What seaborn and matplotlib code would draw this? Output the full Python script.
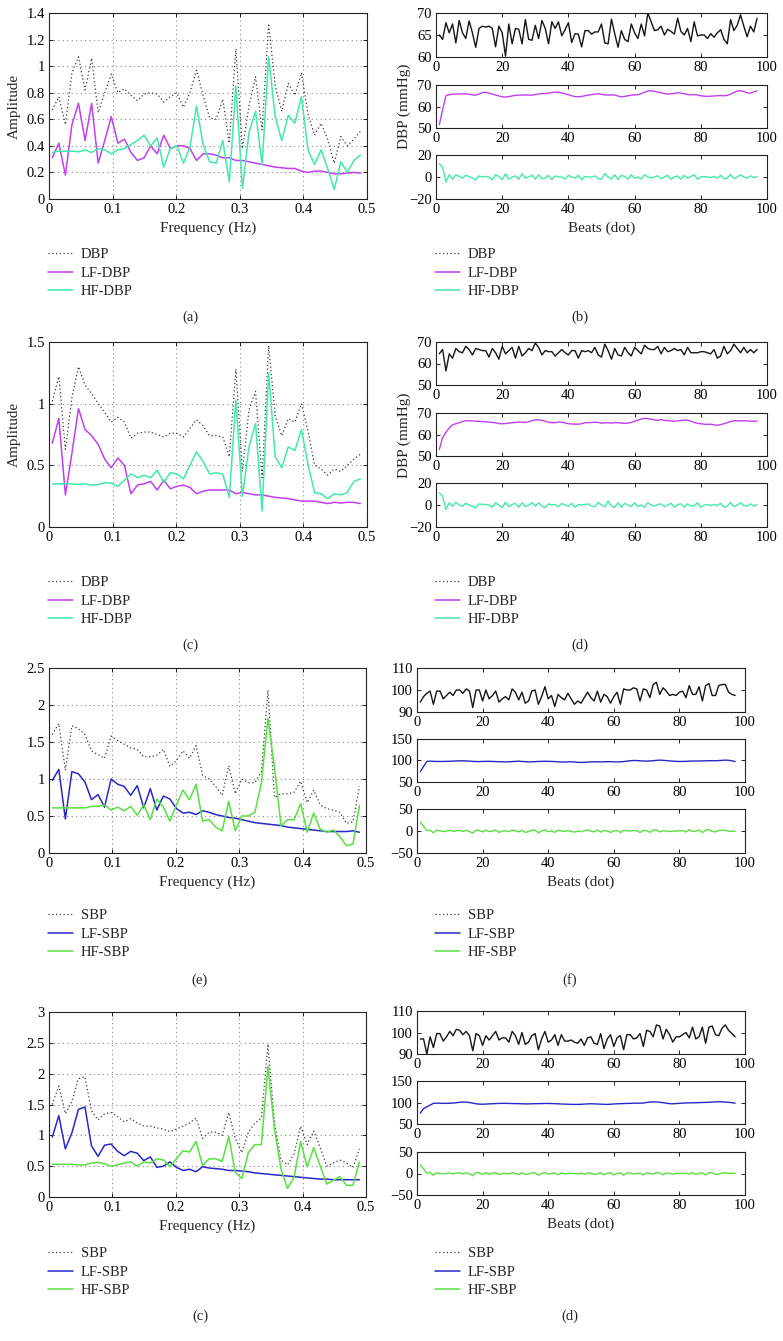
import numpy as np
import matplotlib
matplotlib.use("Agg")
import matplotlib.pyplot as plt
import seaborn as sns
from matplotlib.ticker import FuncFormatter

# ---- spectra (48 bins, 0..0.5 Hz) ----
freq = (np.arange(48) + 0.5) / 97

dbp_a = [0.67, 0.77, 0.56, 0.95, 1.07, 0.82, 1.06, 0.65, 0.80, 0.94, 0.80, 0.83, 0.78, 0.74, 0.79, 0.80,
         0.79, 0.73, 0.77, 0.80, 0.69, 0.80, 0.97, 0.78, 0.61, 0.60, 0.75, 0.42, 1.13, 0.38, 0.70, 0.92,
         0.52, 1.32, 0.85, 0.66, 0.87, 0.78, 0.95, 0.64, 0.48, 0.57, 0.45, 0.27, 0.47, 0.40, 0.45, 0.51]
lf_a = [0.31, 0.42, 0.18, 0.56, 0.72, 0.44, 0.72, 0.27, 0.44, 0.62, 0.42, 0.45, 0.35, 0.29, 0.31, 0.40,
        0.34, 0.48, 0.38, 0.40, 0.40, 0.38, 0.29, 0.34, 0.34, 0.33, 0.31, 0.31, 0.29, 0.29, 0.28, 0.27,
        0.26, 0.25, 0.24, 0.235, 0.23, 0.23, 0.21, 0.20, 0.21, 0.21, 0.20, 0.19, 0.19, 0.195, 0.20, 0.195]
hf_a = [0.35, 0.36, 0.36, 0.36, 0.355, 0.37, 0.35, 0.38, 0.37, 0.34, 0.37, 0.38, 0.41, 0.44, 0.48, 0.40,
        0.46, 0.24, 0.38, 0.40, 0.27, 0.39, 0.70, 0.41, 0.28, 0.27, 0.44, 0.13, 0.85, 0.08, 0.50, 0.66,
        0.26, 1.07, 0.62, 0.44, 0.63, 0.57, 0.77, 0.37, 0.26, 0.37, 0.23, 0.07, 0.28, 0.20, 0.29, 0.33]

dbp_c = [1.02, 1.22, 0.63, 1.05, 1.30, 1.15, 1.08, 1.00, 0.93, 0.85, 0.89, 0.85, 0.72, 0.76, 0.77, 0.77,
         0.75, 0.73, 0.76, 0.76, 0.73, 0.80, 0.87, 0.82, 0.74, 0.74, 0.73, 0.57, 1.28, 0.45, 0.95, 1.10,
         0.40, 1.47, 0.90, 0.74, 0.88, 0.85, 1.00, 0.78, 0.50, 0.47, 0.42, 0.47, 0.45, 0.50, 0.55, 0.59]
lf_c = [0.68, 0.88, 0.26, 0.60, 0.96, 0.79, 0.74, 0.67, 0.55, 0.48, 0.56, 0.50, 0.27, 0.34, 0.35, 0.37,
        0.30, 0.38, 0.31, 0.33, 0.34, 0.32, 0.27, 0.29, 0.30, 0.30, 0.30, 0.30, 0.27, 0.28, 0.27, 0.26,
        0.26, 0.25, 0.24, 0.235, 0.23, 0.22, 0.21, 0.21, 0.21, 0.20, 0.19, 0.20, 0.195, 0.20, 0.20, 0.19]
hf_c = [0.35, 0.35, 0.35, 0.35, 0.345, 0.35, 0.34, 0.345, 0.36, 0.355, 0.33, 0.38, 0.43, 0.40, 0.42, 0.40,
        0.46, 0.36, 0.44, 0.43, 0.39, 0.50, 0.61, 0.53, 0.43, 0.44, 0.43, 0.24, 1.03, 0.25, 0.65, 0.84,
        0.13, 1.25, 0.57, 0.48, 0.65, 0.62, 0.79, 0.51, 0.28, 0.27, 0.23, 0.27, 0.26, 0.28, 0.37, 0.39]

sbp_e = [1.60, 1.75, 1.12, 1.72, 1.68, 1.60, 1.38, 1.33, 1.28, 1.58, 1.52, 1.47, 1.42, 1.40, 1.30, 1.30,
         1.32, 1.40, 1.17, 1.25, 1.38, 1.28, 1.45, 1.05, 1.00, 0.90, 0.78, 1.18, 0.80, 1.00, 0.95, 0.95,
         1.10, 2.20, 0.75, 0.80, 0.80, 0.82, 0.97, 0.68, 0.85, 0.65, 0.60, 0.58, 0.55, 0.40, 0.42, 0.90]
lf_e = [0.98, 1.13, 0.46, 1.10, 1.07, 0.96, 0.72, 0.79, 0.62, 1.00, 0.93, 0.90, 0.78, 0.91, 0.61, 0.87,
        0.58, 0.77, 0.73, 0.60, 0.54, 0.55, 0.52, 0.57, 0.55, 0.52, 0.50, 0.48, 0.47, 0.45, 0.43, 0.41,
        0.40, 0.39, 0.38, 0.37, 0.35, 0.34, 0.33, 0.32, 0.31, 0.30, 0.29, 0.29, 0.29, 0.29, 0.30, 0.28]
hf_e = [0.61, 0.61, 0.61, 0.61, 0.61, 0.61, 0.63, 0.63, 0.65, 0.58, 0.62, 0.57, 0.63, 0.51, 0.65, 0.45,
        0.73, 0.62, 0.43, 0.65, 0.85, 0.72, 0.93, 0.43, 0.45, 0.35, 0.30, 0.70, 0.30, 0.50, 0.50, 0.55,
        0.95, 1.82, 1.15, 0.37, 0.45, 0.45, 0.67, 0.28, 0.54, 0.32, 0.28, 0.31, 0.22, 0.10, 0.12, 0.64]

sbp_g = [1.50, 1.80, 1.35, 1.55, 1.92, 1.95, 1.40, 1.25, 1.35, 1.37, 1.30, 1.22, 1.27, 1.20, 1.15, 1.15,
         1.12, 1.10, 1.06, 1.10, 1.15, 1.20, 1.28, 0.95, 1.05, 1.05, 1.00, 1.37, 0.95, 0.72, 1.05, 1.20,
         1.28, 2.48, 1.20, 0.60, 0.52, 0.70, 1.15, 0.85, 1.07, 0.80, 0.50, 0.55, 0.60, 0.55, 0.48, 0.78]
lf_g = [0.97, 1.32, 0.78, 1.04, 1.42, 1.46, 0.83, 0.66, 0.84, 0.86, 0.74, 0.67, 0.74, 0.71, 0.59, 0.65,
        0.48, 0.50, 0.57, 0.48, 0.43, 0.45, 0.41, 0.49, 0.47, 0.46, 0.45, 0.43, 0.43, 0.42, 0.41, 0.39,
        0.38, 0.37, 0.36, 0.35, 0.34, 0.33, 0.32, 0.31, 0.30, 0.29, 0.29, 0.28, 0.28, 0.28, 0.28, 0.28]
hf_g = [0.53, 0.53, 0.53, 0.53, 0.52, 0.52, 0.55, 0.56, 0.54, 0.50, 0.52, 0.55, 0.57, 0.50, 0.57, 0.55,
        0.62, 0.60, 0.49, 0.62, 0.75, 0.73, 0.90, 0.51, 0.62, 0.62, 0.58, 0.98, 0.40, 0.30, 0.72, 0.85,
        0.85, 2.12, 1.10, 0.45, 0.14, 0.32, 0.90, 0.49, 0.80, 0.50, 0.21, 0.27, 0.33, 0.19, 0.19, 0.57]

# ---- beat series (97 beats) ----
beats = np.arange(1, 98)

dbp_b = [65.0, 64.0, 67.8, 65.5, 67.5, 63.2, 68.3, 65.5, 64.2, 68.2,
         65.5, 62.2, 66.5, 67.0, 66.8, 67.0, 66.5, 62.3, 67.0, 65.5,
         60.2, 67.5, 63.0, 66.5, 66.3, 63.0, 68.5, 64.0, 63.8, 67.2,
         64.2, 68.3, 66.5, 63.0, 68.0, 66.5, 68.0, 64.8, 66.2, 67.8,
         63.3, 65.3, 65.2, 62.3, 66.0, 66.0, 65.2, 65.7, 65.7, 67.5,
         63.2, 63.0, 68.6, 65.3, 62.2, 66.0, 64.0, 63.5, 67.5, 65.5,
         64.2, 67.5, 64.8, 70.0, 68.0, 66.0, 66.2, 67.0, 65.0, 66.3,
         65.8, 65.2, 68.8, 65.8, 65.0, 66.5, 63.5, 68.0, 64.8, 65.0,
         65.0, 64.2, 65.3, 64.5, 65.5, 66.2, 64.0, 63.0, 68.5, 66.0,
         67.2, 69.6, 67.0, 64.6, 67.0, 65.7, 68.8]
lfb = [51.5, 58.5, 65.0, 65.5, 65.7, 65.8, 65.8, 65.9, 65.8, 65.7,
       65.4, 65.3, 65.8, 66.5, 66.6, 66.2, 65.8, 65.3, 64.9, 64.5,
       64.4, 64.6, 64.9, 65.2, 65.3, 65.3, 65.4, 65.3, 65.3, 65.5,
       65.8, 66.0, 66.0, 66.2, 66.5, 66.7, 66.6, 66.3, 65.9, 65.5,
       65.0, 64.6, 64.5, 64.7, 65.0, 65.3, 65.5, 65.8, 65.9, 65.7,
       65.4, 65.3, 65.4, 65.3, 64.9, 64.5, 64.7, 65.0, 65.3, 65.4,
       65.5, 66.0, 66.6, 67.2, 67.3, 67.1, 66.7, 66.4, 66.0, 65.8,
       65.9, 66.1, 66.4, 66.2, 65.9, 65.6, 65.4, 65.5, 65.4, 65.0,
       64.8, 64.7, 64.8, 64.9, 65.0, 65.1, 65.0, 65.2, 65.7, 66.5,
       67.2, 67.3, 67.0, 66.4, 66.2, 66.8, 67.3]
hfb = [12, 9, -4.5, 2, -2, 2, 0.5, -1, 1.5, 0.5,
       -1, -2.5, 1, 0, 0.5, 0, -2.5, 2, 0.5, -2.5,
       3, -2, 0, 1, -2, 3, -1, 0, 1.5, -2,
       2, -1.5, -1, 1.5, -2.5, 1, 0, 0, -2, 1.5,
       0, -1, 1.5, -2.5, 0.5, 0, 0, 1, -1.5, -2,
       3, 0, -2, 2, -2.5, 1.5, 0.5, -2, 2, -1,
       0, -2, 2, 0, -1, 0, 1, -1.5, 0, 1.5,
       -2, 0, 1, -2, 1.5, -1, 0.5, 2, -2, 0,
       0.5, 0, -0.5, 0.5, -1, 1.5, -1.5, -1, 2.5, -1.5,
       0, 2, 0, -1, 1, -0.5, 0.5]

dbp_d = [64.5, 66.5, 56.5, 64.5, 62.5, 67.0, 65.5, 65.0, 68.0, 66.5,
         64.0, 67.0, 66.5, 66.0, 66.0, 63.0, 67.0, 65.0, 62.0, 68.0,
         64.5, 66.0, 67.5, 62.5, 68.0, 63.5, 65.0, 67.0, 66.0, 69.5,
         67.5, 64.0, 66.0, 65.5, 65.5, 63.5, 65.0, 66.5, 65.0, 64.0,
         66.0, 66.0, 62.5, 66.0, 65.5, 66.0, 65.0, 67.5, 64.0, 63.0,
         69.0, 66.0, 62.0, 67.0, 64.0, 63.5, 67.5, 65.0, 63.5, 67.5,
         66.0, 64.5, 68.5, 67.0, 66.5, 66.5, 68.0, 64.5, 67.5, 65.5,
         66.0, 67.0, 66.0, 66.5, 64.0, 67.5, 65.0, 65.0, 65.0, 65.5,
         65.5, 65.0, 64.5, 66.5, 62.5, 63.5, 68.0, 64.5, 66.0, 69.0,
         67.0, 65.0, 67.5, 65.0, 66.5, 65.0, 66.5]
lfd = [53.0, 58.5, 61.0, 63.0, 64.5, 65.0, 65.5, 66.0, 66.4, 66.4,
       66.3, 66.2, 66.1, 66.0, 65.9, 65.8, 65.6, 65.4, 65.1, 65.0,
       65.1, 65.3, 65.5, 65.6, 65.8, 65.7, 65.6, 65.9, 66.4, 66.8,
       66.8, 66.6, 66.2, 65.7, 65.5, 65.5, 65.8, 65.7, 65.4, 65.0,
       64.9, 64.8, 64.8, 65.0, 65.5, 65.5, 65.6, 65.8, 65.6, 65.3,
       65.4, 65.5, 65.3, 65.5, 65.5, 65.3, 65.2, 65.3, 65.6, 66.2,
       66.7, 67.2, 67.5, 67.4, 67.1, 66.8, 66.6, 66.9, 66.6, 66.4,
       66.3, 66.2, 66.3, 66.5, 66.7, 66.6, 66.2, 65.6, 65.2, 65.0,
       64.8, 64.7, 64.8, 64.5, 64.3, 64.6, 65.0, 65.5, 66.0, 66.4,
       66.4, 66.3, 66.4, 66.3, 66.2, 66.2, 66.2]
hfd = [11, 8, -4, 2, -1, 2.5, 0, -1, 1.5, 0,
       -1, -2.5, 1, 0.5, 0.5, 0, -2, 2, 0, -2.5,
       2.5, -1.5, 0.5, 1.5, -2, 2, -1.5, 0, 2, -1,
       2, -1, -2.5, 1, 0, 0.5, -1.5, 1.5, 0, -1,
       1.5, -2, 0.5, 0, 0.5, 1, -1, -1.5, 2.5, 0,
       -1.5, 3.5, -1, -2, 2, -2, 1.5, 0, -1.5, 2,
       -1.5, 0, -2, 2, 0, -1, 0.5, 1, -1.5, 0,
       1.5, -2, 0.5, 1, -2, 1, -1, -0.5, 2, -2,
       0, 0.5, -0.5, 0.5, -0.5, 1.5, -2, -1, 2.5, -1.5,
       0, 2, -0.5, -1, 1, -1, 0.5]

sbp_f = [94.5, 97.0, 98.5, 99.5, 93.5, 99.5, 99.5, 96.0, 97.5, 99.0,
         97.5, 100.0, 100.0, 98.5, 100.5, 99.5, 92.0, 100.0, 100.0, 95.0,
         100.0, 96.0, 97.5, 99.5, 94.5, 96.0, 97.0, 95.5, 100.5, 99.0,
         95.5, 99.0, 94.0, 95.0, 99.5, 100.0, 93.5, 97.0, 101.5, 96.0,
         97.5, 92.5, 98.0, 96.5, 95.5, 98.5, 96.0, 93.5, 95.0, 94.0,
         96.5, 99.0, 96.5, 95.0, 99.5, 94.5, 98.0, 97.0, 94.0, 97.0,
         99.0, 93.5, 100.5, 100.0, 100.0, 101.0, 100.5, 95.0, 100.5, 100.0,
         96.5, 102.5, 103.5, 98.0, 101.0, 99.5, 97.5, 98.0, 97.5, 99.0,
         99.5, 96.5, 102.0, 98.0, 98.0, 101.5, 95.0, 102.0, 103.0, 97.5,
         97.5, 102.0, 102.5, 102.5, 99.0, 98.0, 97.5]
lff = [74, 86, 98, 98.5, 98, 97.8, 97.8, 97.8, 98, 98.2,
       98.5, 99, 99.3, 99.3, 99, 98.5, 98, 97.6, 97.5, 97.8,
       98, 98, 97.8, 97.5, 97.3, 97, 96.8, 97, 97.5, 98,
       98.3, 97.8, 97.3, 96.8, 97, 97.3, 97.8, 98, 98.2, 98,
       97.8, 97.5, 97, 96.5, 96.5, 96.8, 97, 96.5, 95.8, 95.5,
       95.8, 96.3, 96.8, 97, 97, 96.8, 97, 97.3, 97.2, 97,
       96.8, 97, 97.5, 98.5, 99.5, 100, 99.8, 99.3, 98.8, 98.5,
       99, 99.5, 100.3, 100.8, 100.5, 99.8, 99, 98.5, 98, 97.8,
       97.8, 98, 98.5, 98.8, 98.8, 98.8, 99, 99.3, 99.5, 99.5,
       99.5, 99.8, 100.3, 100.8, 100.5, 99.3, 97.5]
hff = [20, 11, 1, 1.5, -4, 2, 0.5, -1.5, 0, 1.5,
       -1, 0.5, 1.5, -1, 1.5, -1, -5, 2, 1, -2,
       2, -1.5, 0, 2, -3, -0.5, 0.5, -1.5, 2, 0.5,
       -2, 1.5, -3, -1.5, 1.5, 2, -4, 0, 3, -1.5,
       0, -3, 1.5, 0, -1, 1, -1, -2.5, -0.5, -1.5,
       0.5, 2.5, -0.5, -2, 2, -2.5, 1, 0, -3, 0,
       1.5, -3.5, 1.5, 0.5, 0, 1, 0.5, -3.5, 1, 1,
       -3, 2, 2.5, -2, 0.5, 0, -1.5, 0, -0.5, 0.5,
       0.5, -2.5, 3, -1, -0.5, 2, -3.5, 2, 3, -1,
       -2, 1, 1.5, 1.5, -0.5, -0.5, -0.5]

sbp_h = [97.0, 97.0, 90.0, 98.0, 93.0, 99.5, 99.5, 96.0, 98.0, 100.5,
         98.5, 101.5, 101.0, 99.0, 100.5, 98.5, 91.5, 99.5, 98.5, 94.0,
         98.5, 96.5, 98.5, 100.5, 96.5, 97.5, 97.5, 95.5, 100.5, 98.5,
         94.5, 100.0, 94.5, 95.5, 98.5, 99.5, 92.0, 97.0, 100.5, 95.5,
         96.5, 99.0, 94.0, 99.0, 96.0, 96.0, 96.5, 95.5, 95.0, 97.0,
         94.0, 97.5, 98.0, 95.0, 94.5, 99.5, 92.5, 97.0, 99.0, 93.5,
         97.5, 98.5, 92.0, 99.0, 99.0, 97.0, 97.5, 99.5, 93.5, 101.0,
         100.5, 98.0, 103.5, 103.0, 97.0, 101.5, 99.0, 95.5, 98.0, 98.0,
         99.0, 100.0, 97.5, 102.5, 97.0, 98.0, 102.5, 95.0, 102.5, 103.0,
         99.0, 98.5, 102.0, 103.5, 101.0, 99.5, 98.0]
lfh = [75, 86, 90, 94, 98, 98.5, 98.3, 98, 98, 98.3,
       98.8, 99.5, 100.5, 101, 100.8, 100, 98.5, 97, 96.3, 96,
       96.3, 96.8, 97.2, 97.5, 97.8, 98, 98, 97.8, 97.5, 97.5,
       97.3, 97, 96.8, 96.8, 97, 97.2, 97.3, 97.5, 97.8, 97.8,
       97.5, 97.3, 97, 96.5, 96.2, 96, 95.8, 95.5, 95.5, 95.8,
       96.3, 96.8, 97, 96.8, 96.5, 96.2, 95.8, 95.5, 96, 96.5,
       97, 97.3, 97.5, 97.8, 98, 98.3, 98.5, 98.3, 98.8, 100,
       101, 101.5, 101.3, 100.5, 99.5, 98.5, 97.3, 97, 97.5, 98,
       98.5, 99, 99.3, 99.3, 99.5, 99.8, 100, 100.3, 100.5, 101,
       101.5, 101.8, 101.5, 101, 100.5, 99.5, 98.5]
hfh = [20, 11, 1, 2.5, -4, 1.5, 0.5, -1, 0.5, 1.5,
       -1, 1, 1.5, -1, 1.5, -0.5, -5, 2, 1.5, -2,
       2, -1.5, 0.5, 2, -2.5, 0, 0.5, -1, 2, 0.5,
       -2.5, 1.5, -2, -1, 1, 2, -4, 0, 2.5, -1.5,
       0, 1.5, -3, 1.5, -1, 0, 0.5, 0, -1, 1.5,
       -2, 1, 1, -2, -1, 2, -3, 0.5, 2, -3.5,
       0, 1.5, -4, 1, 1.5, -1, 0, 1, -3.5, 1.5,
       0.5, -1.5, 2.5, 1, -3, 1.5, 0, -2, 0.5, 0,
       0, 1, -1, 2.5, -2, 0, 2, -3.5, 2, 1.5,
       -2, -1.5, 1, 1.5, 0, 0.5, 0]

# ---- style ----
sns.set_theme(style="ticks")
plt.rcParams['font.family'] = ['Liberation Serif', 'DejaVu Serif']
plt.rcParams['font.size'] = 10.5
plt.rcParams['axes.linewidth'] = 0.8

C_DOT = '#3a3a3a'
C_RAW = '#151515'
C_LF_D, C_HF_D = '#c040f0', '#40eaa8'
C_LF_S, C_HF_S = '#2828c8', '#58e040'

W, H = 783, 1341
fig = plt.figure(figsize=(W / 100, H / 100), dpi=100)


def rect(x0, y0, x1, y1):
    return [x0 / W, 1 - y1 / H, (x1 - x0) / W, (y1 - y0) / H]


def style_ax(ax):
    ax.tick_params(direction='in', top=True, right=True, length=3, width=0.6,
                   labelsize=10.5, pad=3, colors='black')
    for s in ax.spines.values():
        s.set_color('#222222')
        s.set_linewidth(0.8)


gfmt = FuncFormatter(lambda v, p: ('%g' % v).replace('-', '\u2212'))


def spectrum(box, raw, lf, hf, ymax, ystep, names, cols, ylabel, xlabel):
    ax = fig.add_axes(rect(*box))
    sns.lineplot(x=freq, y=raw, ax=ax, color=C_DOT, lw=0.9, linestyle=(0, (1, 2)), label=names[0])
    sns.lineplot(x=freq, y=lf, ax=ax, color=cols[0], lw=1.1, label=names[1])
    sns.lineplot(x=freq, y=hf, ax=ax, color=cols[1], lw=1.1, label=names[2])
    ax.set_xlim(0, 0.5)
    ax.set_ylim(0, ymax)
    ax.set_xticks(np.arange(0, 0.51, 0.1))
    ax.set_yticks(np.arange(0, ymax + 1e-9, ystep))
    ax.xaxis.set_major_formatter(gfmt)
    ax.yaxis.set_major_formatter(gfmt)
    ax.grid(True, color='#888888', linestyle=(0, (1, 3)), linewidth=0.8)
    style_ax(ax)
    ax.set_ylabel(ylabel, fontsize=11)
    ax.set_xlabel(xlabel, fontsize=11)
    ax.get_legend().remove()
    return ax


def beatpanel(x0, x1, ys, series, cols, ylims, xlabel):
    axes = []
    for (y0, y1), s, c, (lo, hi, step) in zip(ys, series, cols, ylims):
        ax = fig.add_axes(rect(x0, y0, x1, y1))
        sns.lineplot(x=beats, y=s, ax=ax, color=c, lw=1.0, legend=False)
        ax.set_xlim(0, 100)
        ax.set_ylim(lo, hi)
        ax.set_xticks(np.arange(0, 101, 20))
        ax.set_yticks(np.arange(lo, hi + 1e-9, step))
        ax.yaxis.set_major_formatter(gfmt)
        style_ax(ax)
        ax.set_ylabel('')
        axes.append(ax)
    axes[-1].set_xlabel(xlabel, fontsize=11)
    return axes


def legend_block(ax, x, ytop):
    h, l = ax.get_legend_handles_labels()
    fig.legend(h, l, loc='upper left', bbox_to_anchor=(x / W, 1 - ytop / H),
               frameon=False, fontsize=10.5, handlelength=1.7, handletextpad=0.55,
               labelspacing=0.36, borderpad=0, borderaxespad=0)


dnames = ['DBP', 'LF-DBP', 'HF-DBP']
snames = ['SBP', 'LF-SBP', 'HF-SBP']

# (a) / (b)
axa = spectrum((49, 13, 367, 199), dbp_a, lf_a, hf_a, 1.4, 0.2, dnames, (C_LF_D, C_HF_D),
               'Amplitude', 'Frequency (Hz)')
beatpanel(436, 767, [(13, 57), (85, 128), (155, 199)], [dbp_b, lfb, hfb],
          [C_RAW, C_LF_D, C_HF_D], [(60, 70, 5), (50, 70, 10), (-20, 20, 20)], 'Beats (dot)')
fig.text(404 / W, 1 - 106 / H, 'DBP (mmHg)', rotation=90, ha='center', va='center', fontsize=11)
legend_block(axa, 48, 248)
legend_block(axa, 435, 248)
fig.text(190 / W, 1 - 317 / H, '(a)', ha='center', va='center', fontsize=10.5)
fig.text(580 / W, 1 - 317 / H, '(b)', ha='center', va='center', fontsize=10.5)

# (c) / (d)
axc = spectrum((49, 342, 367, 527), dbp_c, lf_c, hf_c, 1.5, 0.5, dnames, (C_LF_D, C_HF_D),
               'Amplitude', '')
beatpanel(436, 767, [(342, 385), (413, 456), (483, 527)], [dbp_d, lfd, hfd],
          [C_RAW, C_LF_D, C_HF_D], [(50, 70, 10), (50, 70, 10), (-20, 20, 20)], '')
fig.text(404 / W, 1 - 435 / H, 'DBP (mmHg)', rotation=90, ha='center', va='center', fontsize=11)
legend_block(axc, 48, 576)
legend_block(axc, 435, 576)
fig.text(190 / W, 1 - 645 / H, '(c)', ha='center', va='center', fontsize=10.5)
fig.text(580 / W, 1 - 645 / H, '(d)', ha='center', va='center', fontsize=10.5)

# (e) / (f)
axe = spectrum((49, 668, 366, 853), sbp_e, lf_e, hf_e, 2.5, 0.5, snames, (C_LF_S, C_HF_S),
               '', 'Frequency (Hz)')
beatpanel(417, 745, [(668, 712), (739, 782), (809, 853)], [sbp_f, lff, hff],
          [C_RAW, C_LF_S, C_HF_S], [(90, 110, 10), (50, 150, 50), (-50, 50, 50)], 'Beats (dot)')
legend_block(axe, 48, 909)
legend_block(axe, 435, 909)
fig.text(200 / W, 1 - 980 / H, '(e)', ha='center', va='center', fontsize=10.5)
fig.text(570 / W, 1 - 980 / H, '(f)', ha='center', va='center', fontsize=10.5)

# last pair (labelled (c) / (d) again in the source figure)
axg = spectrum((49, 1012, 366, 1197), sbp_g, lf_g, hf_g, 3.0, 0.5, snames, (C_LF_S, C_HF_S),
               '', 'Frequency (Hz)')
beatpanel(417, 745, [(1011, 1054), (1081, 1124), (1152, 1195)], [sbp_h, lfh, hfh],
          [C_RAW, C_LF_S, C_HF_S], [(90, 110, 10), (50, 150, 50), (-50, 50, 50)], 'Beats (dot)')
legend_block(axg, 48, 1247)
legend_block(axg, 435, 1247)
fig.text(200 / W, 1 - 1316 / H, '(c)', ha='center', va='center', fontsize=10.5)
fig.text(570 / W, 1 - 1316 / H, '(d)', ha='center', va='center', fontsize=10.5)

fig.savefig('out.png', dpi=100)
